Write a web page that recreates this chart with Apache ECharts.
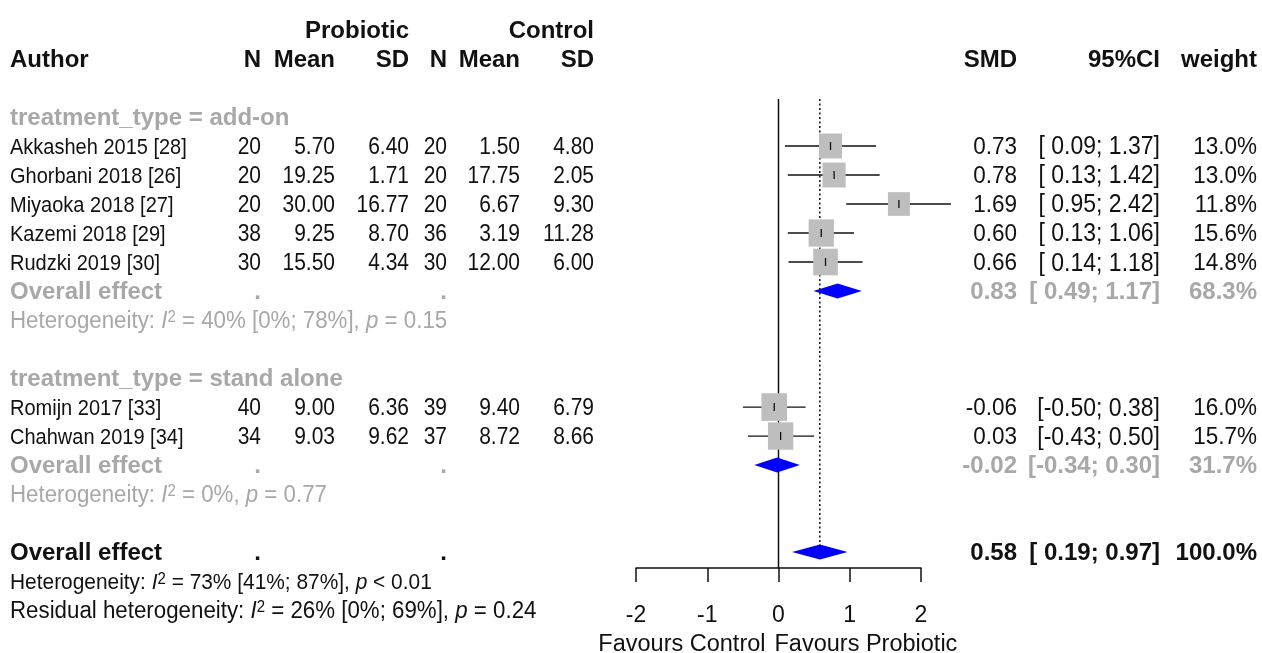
<!DOCTYPE html>
<html>
<head>
<meta charset="utf-8">
<title>Forest plot</title>
<script src="https://cdn.jsdelivr.net/npm/echarts@6/dist/echarts.min.js"></script>
<style>
  html, body { margin: 0; padding: 0; background: #fff; }
  #chart { width: 1262px; height: 653px; }
</style>
</head>
<body>
<div id="chart"></div>
<script>
// ---- data ----
var studyNames = ['Akkasheh 2015 [28]', 'Ghorbani 2018 [26]', 'Miyaoka 2018 [27]', 'Kazemi 2018 [29]',
  'Rudzki 2019 [30]', 'Romijn 2017 [33]', 'Chahwan 2019 [34]'];
var studyRows = [4, 5, 6, 7, 8, 13, 14];
var nProbiotic = [20, 20, 20, 38, 30, 40, 34];
var meanProbiotic = [5.70, 19.25, 30.00, 9.25, 15.50, 9.00, 9.03];
var sdProbiotic = [6.40, 1.71, 16.77, 8.70, 4.34, 6.36, 9.62];
var nControl = [20, 20, 20, 36, 30, 39, 37];
var meanControl = [1.50, 17.75, 6.67, 3.19, 12.00, 9.40, 8.72];
var sdControl = [4.80, 2.05, 9.30, 11.28, 6.00, 6.79, 8.66];
var smd = [0.73, 0.78, 1.69, 0.60, 0.66, -0.06, 0.03];
var ciLower = [0.09, 0.13, 0.95, 0.13, 0.14, -0.50, -0.43];
var ciUpper = [1.37, 1.42, 2.42, 1.06, 1.18, 0.38, 0.50];
var weight = [13.0, 13.0, 11.8, 15.6, 14.8, 16.0, 15.7];

// pooled estimates: add-on, stand alone, overall
var poolRows = [9, 15, 18];
var poolSmd = [0.83, -0.02, 0.58];
var poolLower = [0.49, -0.34, 0.19];
var poolUpper = [1.17, 0.30, 0.97];
var poolWeight = [68.3, 31.7, 100.0];

var groupTitles = ['treatment_type = add-on', 'treatment_type = stand alone'];
var groupRows = [3, 12];

var hetRows = [10, 16, 19, 20];
var hetLabel = ['Heterogeneity: ', 'Heterogeneity: ', 'Heterogeneity: ', 'Residual heterogeneity: '];
var hetI2 = ['40% [0%; 78%]', '0%', '73% [41%; 87%]', '26% [0%; 69%]'];
var hetP = ['= 0.15', '= 0.77', '< 0.01', '= 0.24'];

var xTicks = [-2, -1, 0, 1, 2];
var labelLeft = 'Favours Control';
var labelRight = 'Favours Probiotic';

// ---- layout ----
var FONT = '"Liberation Sans", Arial, sans-serif';
var BLACK = '#111111';
var GRAY = '#a8a8a8';
var COL = { author: 10, n1: 261, mean1: 335, sd1: 409, n2: 447, mean2: 520, sd2: 594, smd: 1017, ci: 1160, w: 1257 };

function f2(v) { return v.toFixed(2); }
function ciText(lo, hi) {
  return '[' + (lo < 0 ? '' : ' ') + f2(lo) + '; ' + f2(hi) + ']';
}

// build table rows (text only); s = font size
var tableRows = [];
tableRows.push({ row: 0, cells: [
  { x: COL.sd1, t: 'Probiotic', b: true }, { x: COL.sd2, t: 'Control', b: true }
]});
tableRows.push({ row: 1, cells: [
  { x: COL.author, t: 'Author', b: true, a: 'left' },
  { x: COL.n1, t: 'N', b: true }, { x: COL.mean1, t: 'Mean', b: true }, { x: COL.sd1, t: 'SD', b: true },
  { x: COL.n2, t: 'N', b: true }, { x: COL.mean2, t: 'Mean', b: true }, { x: COL.sd2, t: 'SD', b: true },
  { x: COL.smd, t: 'SMD', b: true }, { x: COL.ci, t: '95%CI', b: true }, { x: COL.w, t: 'weight', b: true }
]});
groupTitles.forEach(function (g, i) {
  tableRows.push({ row: groupRows[i], cells: [{ x: COL.author, t: g, b: true, a: 'left', c: GRAY }] });
});
studyNames.forEach(function (name, i) {
  tableRows.push({ row: studyRows[i], cells: [
    { x: COL.author, t: name, a: 'left' },
    { x: COL.n1, t: String(nProbiotic[i]), s: 21 }, { x: COL.mean1, t: f2(meanProbiotic[i]), s: 21 },
    { x: COL.sd1, t: f2(sdProbiotic[i]), s: 21 },
    { x: COL.n2, t: String(nControl[i]), s: 21 }, { x: COL.mean2, t: f2(meanControl[i]), s: 21 },
    { x: COL.sd2, t: f2(sdControl[i]), s: 21 },
    { x: COL.smd, t: f2(smd[i]), s: 22.5 }, { x: COL.ci, t: ciText(ciLower[i], ciUpper[i]), s: 23 },
    { x: COL.w, t: weight[i].toFixed(1) + '%', s: 22.5 }
  ]});
});
poolRows.forEach(function (r, i) {
  var c = i < 2 ? GRAY : BLACK;
  tableRows.push({ row: r, cells: [
    { x: COL.author, t: 'Overall effect', b: true, a: 'left', c: c },
    { x: COL.n1, t: '.', b: true, c: c }, { x: COL.n2, t: '.', b: true, c: c },
    { x: COL.smd, t: f2(poolSmd[i]), b: true, c: c },
    { x: COL.ci, t: ciText(poolLower[i], poolUpper[i]), b: true, c: c },
    { x: COL.w, t: poolWeight[i].toFixed(1) + '%', b: true, c: c }
  ]});
});
hetRows.forEach(function (r, i) {
  tableRows.push({ row: r, cells: [{
    x: COL.author, a: 'left', c: i < 2 ? GRAY : BLACK, rich: true, s: i === 2 ? 20.9 : 22.3,
    t: hetLabel[i] + '{it|I}{sup|2} = ' + hetI2[i] + ', {it|p} ' + hetP[i]
  }]});
});

function textEl(x, y, cell) {
  var bold = !!cell.b;
  var size = cell.s || (bold ? 24 : 20);
  var style = {
    text: cell.t, align: cell.a || 'right', verticalAlign: 'middle',
    fontFamily: FONT, fontSize: size, fontWeight: bold ? 'bold' : 'normal',
    fill: cell.c || BLACK
  };
  if (cell.rich) {
    style.rich = {
      it: { fontStyle: 'italic', fontFamily: FONT, fontSize: size, fill: cell.c || BLACK },
      sup: { fontFamily: FONT, fontSize: 15, verticalAlign: 'top', fill: cell.c || BLACK }
    };
  }
  return { type: 'text', x: x, y: y + 1.5, scaleY: bold ? 1.0 : 1.1, style: style };
}

// forest marks
var forestData = [];
smd.forEach(function (v, i) { forestData.push([v, ciLower[i], ciUpper[i], studyRows[i], weight[i], 0]); });
poolSmd.forEach(function (v, i) { forestData.push([v, poolLower[i], poolUpper[i], poolRows[i], poolWeight[i], 1]); });

var chart = echarts.init(document.getElementById('chart'));
chart.setOption({
  animation: false,
  backgroundColor: '#fff',
  grid: { left: 636, right: 341, top: 1, bottom: 85 },
  xAxis: {
    type: 'value', min: -2, max: 2, interval: 1, position: 'bottom',
    axisLine: { show: true, onZero: false, lineStyle: { color: BLACK, width: 1.5 } },
    axisTick: { show: true, length: 14, inside: false, lineStyle: { color: BLACK, width: 1.5 } },
    axisLabel: { show: true, margin: 36, fontSize: 23, fontFamily: FONT, color: BLACK,
      formatter: function (v) { return xTicks.indexOf(v) >= 0 ? String(v) : ''; } },
    splitLine: { show: false }
  },
  yAxis: { type: 'value', inverse: true, min: -1, max: 18.55, show: false },
  series: [
    {
      // reference lines (no effect, pooled overall effect) and axis captions
      type: 'custom', z: 1, silent: true,
      data: [[0, 2.38, 18.55, 0], [poolSmd[2], 2.38, 17.9, 1]],
      renderItem: function (params, api) {
        var a = api.coord([api.value(0), api.value(1)]);
        var b = api.coord([api.value(0), api.value(2)]);
        var dotted = api.value(3) === 1;
        var children = [{
          type: 'line', shape: { x1: a[0], y1: a[1], x2: b[0], y2: b[1] },
          style: { stroke: BLACK, lineWidth: 1.5, lineDash: dotted ? [2, 2.5] : null }
        }];
        if (!dotted) {
          var cap = api.coord([0, 21.2]);
          children.push({ type: 'text', x: cap[0] - 13, y: cap[1], style: { text: labelLeft, align: 'right', verticalAlign: 'middle', fontFamily: FONT, fontSize: 23.5, fill: BLACK } });
          children.push({ type: 'text', x: cap[0] - 4, y: cap[1], style: { text: labelRight, align: 'left', verticalAlign: 'middle', fontFamily: FONT, fontSize: 23.5, fill: BLACK } });
        }
        return { type: 'group', children: children };
      }
    },
    {
      // study squares with CI and pooled diamonds
      type: 'custom', z: 3, silent: true,
      data: forestData,
      renderItem: function (params, api) {
        var row = api.value(3);
        var p = api.coord([api.value(0), row]);
        var lo = api.coord([api.value(1), row]);
        var hi = api.coord([api.value(2), row]);
        if (api.value(5) === 1) {
          var h = 7.5;
          return {
            type: 'polygon',
            shape: { points: [[lo[0], p[1]], [p[0], p[1] - h], [hi[0], p[1]], [p[0], p[1] + h]] },
            style: { fill: '#0000ff', stroke: null }
          };
        }
        var s = 6.4 * Math.sqrt(api.value(4));
        return {
          type: 'group', children: [
            { type: 'line', shape: { x1: lo[0], y1: p[1], x2: hi[0], y2: p[1] }, style: { stroke: BLACK, lineWidth: 1.3 } },
            { type: 'rect', shape: { x: p[0] - s / 2, y: p[1] - s * 0.54, width: s, height: s * 1.08 }, style: { fill: '#bebebe' } },
            { type: 'line', shape: { x1: p[0], y1: p[1] - 4, x2: p[0], y2: p[1] + 4 }, style: { stroke: BLACK, lineWidth: 1.3 } }
          ]
        };
      }
    },
    {
      // table text
      type: 'custom', z: 5, silent: true,
      data: tableRows.map(function (r) { return [0, r.row]; }),
      renderItem: function (params, api) {
        var y = api.coord([0, api.value(1)])[1];
        var cells = tableRows[params.dataIndex].cells;
        return {
          type: 'group',
          children: cells.map(function (c) { return textEl(c.x, y, c); })
        };
      }
    }
  ]
});
</script>
</body>
</html>
